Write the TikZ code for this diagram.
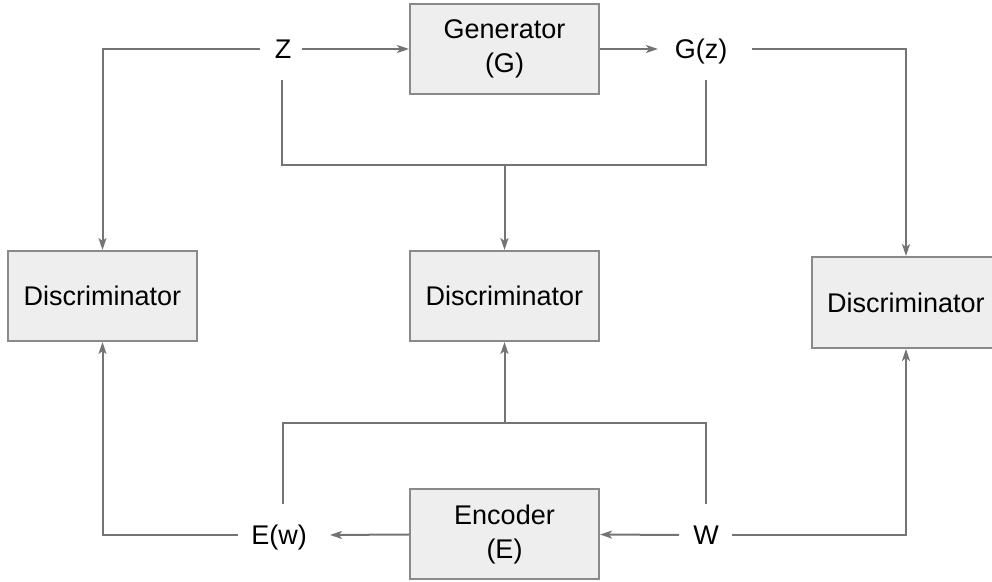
\documentclass[tikz,border=0pt]{standalone}
\usepackage{fontspec}
\setmainfont{Liberation Sans}
\usetikzlibrary{arrows.meta,calc}
\definecolor{wire}{HTML}{747474}
\definecolor{boxline}{HTML}{8A8A8A}
\definecolor{boxfill}{HTML}{EEEEEE}
\tikzset{
  block/.style={draw=boxline, line width=1pt, fill=boxfill,
    minimum width=94.5pt, minimum height=45pt, inner sep=0pt,
    align=center, font=\fontsize{13.5}{17}\selectfont},
  signal/.style={inner sep=0pt, text height=9.6pt, text depth=0pt,
    font=\fontsize{13.5}{17}\selectfont},
  wireline/.style={draw=wire, line width=1pt},
  flow/.style={wireline, -{Stealth[length=6pt,width=4pt,inset=1.5pt]}},
}
\begin{document}
\begin{tikzpicture}[x=0.5pt,y=-0.5pt]
  \useasboundingbox (0,0) rectangle (992,582);

  % blocks
  \node[block] (gen) at (504.5,49) {Generator\\(G)};
  \node[block] (enc) at (504.5,534.5) {Encoder\\(E)};
  \node[block] (dl) at (102.5,296) {Discriminator};
  \node[block] (dm) at (504.5,296) {Discriminator};
  \node[block, minimum height=45.5pt] (dr) at (906,302.5) {Discriminator};

  % signals
  \node[signal] (Z) at (283,49) {Z};
  \node[signal] (Gz) at (701,49) {G(z)};
  \node[signal] (Ew) at (279,535) {E(w)};
  \node[signal] (W) at (706,535) {W};

  % junction points
  \coordinate (jt) at (504.5,165);
  \coordinate (jb) at (504.5,423);

  % generator path
  \draw[flow] ($(Z)+(19,0)$) -- (gen.west);
  \draw[flow] (gen.east) -- ($(Gz)+(-43,0)$);
  \draw[flow] ($(Z)+(-23,0)$) -| (dl.north);
  \draw[flow] ($(Gz)+(51,0)$) -| (dr.north);
  \draw[wireline] ($(Z)+(-1,31)$) |- (jt) -| ($(Gz)+(5,31)$);
  \draw[flow] (jt) -- (dm.north);

  % encoder path
  \draw[flow] ($(W)+(-27,0)$) -- (enc.east);
  \draw[flow] (enc.west) -- ($(Ew)+(51,0)$);
  \draw[flow] ($(Ew)+(-41,0)$) -| (dl.south);
  \draw[flow] ($(W)+(26,0)$) -| (dr.south);
  \draw[wireline] ($(Ew)+(4,-31)$) |- (jb) -| ($(W)+(0,-31)$);
  \draw[flow] (jb) -- (dm.south);
\end{tikzpicture}
\end{document}
